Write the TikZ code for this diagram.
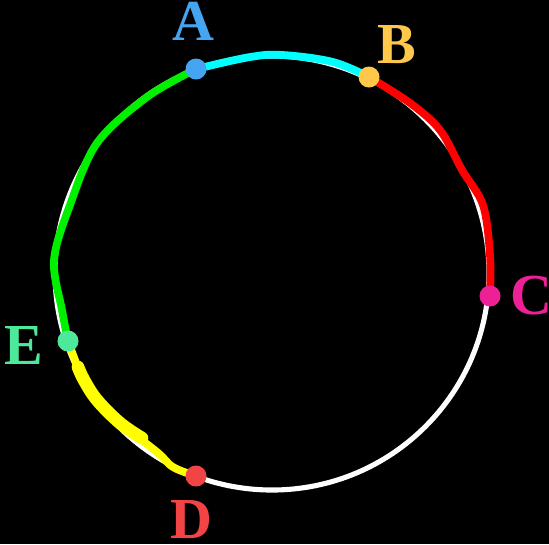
\documentclass[tikz,border=0pt]{standalone}
\usepackage{fontspec}
\setmainfont{Liberation Serif}
\usetikzlibrary{positioning}
\definecolor{ptblue}{RGB}{70,165,240}
\definecolor{ptamber}{RGB}{255,200,75}
\definecolor{ptpink}{RGB}{238,32,150}
\definecolor{ptred}{RGB}{242,68,68}
\definecolor{ptmint}{RGB}{78,232,155}
\definecolor{arccyan}{RGB}{0,255,255}
\definecolor{arcred}{RGB}{255,0,0}
\definecolor{arcgreen}{RGB}{0,240,0}
\definecolor{arcyellow}{RGB}{255,255,0}
\tikzset{
  rim/.style={draw=white, line width=1.45pt},
  arcstroke/.style={line width=2.2pt, line cap=round, line join=round},
  dot/.style={circle, inner sep=0pt, minimum size=0.21cm},
  lbl/.style={font=\fontsize{16.5}{20}\selectfont\bfseries, inner sep=0pt}
}
\begin{document}
\begin{tikzpicture}[x=0.01cm, y=-0.01cm]
      \fill[black] (0,0) rectangle (549,544);
      \useasboundingbox (0,0) rectangle (549,544);
      % points on the circle
      \coordinate (O) at (272,273);
      \coordinate (A) at (196,69);
      \coordinate (B) at (369,77);
      \coordinate (C) at (490,296);
      \coordinate (D) at (196,476);
      \coordinate (E) at (68,341);
      \draw[rim] (O) circle[radius=217];
      % coloured arcs
      \draw[arcstroke, arccyan] plot[smooth, tension=0.6] coordinates {(A) (250,57) (283,55) (333,62) (B)};
      \draw[arcstroke, arcred] plot[smooth, tension=0.55] coordinates {(B) (410,103) (440,130) (462,170) (483,205) (490,255) (C)};
      \draw[arcstroke, arcgreen] plot[smooth, tension=0.55] coordinates {(A) (147,97) (97,143) (70,205) (54,260) (62,310) (E)};
      \draw[arcstroke, arcyellow] plot[smooth, tension=0.6] coordinates {(E) (82,377) (97,400) (120,423) (157,452) (173,467) (D)};
      \draw[arcstroke, arcyellow, line width=3.6pt] plot[smooth, tension=0.6] coordinates {(78,367) (84,380) (97,400) (120,423) (142,438)};
      % dots and labels
      \node[dot, fill=ptblue] (dotA) at (A) {};
      \node[dot, fill=ptamber] (dotB) at (B) {};
      \node[dot, fill=ptpink] (dotC) at (C) {};
      \node[dot, fill=ptred] (dotD) at (D) {};
      \node[dot, fill=ptmint] (dotE) at (E) {};
      \node[lbl, ptblue, above=0.17cm of dotA, xshift=-0.03cm] (lblA) {A};
      \node[lbl, ptamber, above right=0.05cm and 0cm of dotB] (lblB) {B};
      \node[lbl, ptpink, right=0.09cm of dotC] (lblC) {C};
      \node[lbl, ptred, below=0.13cm of dotD, xshift=-0.05cm] (lblD) {D};
      \node[lbl, ptmint, left=0.13cm of dotE, yshift=-0.04cm] (lblE) {E};
    \end{tikzpicture}
\end{document}
